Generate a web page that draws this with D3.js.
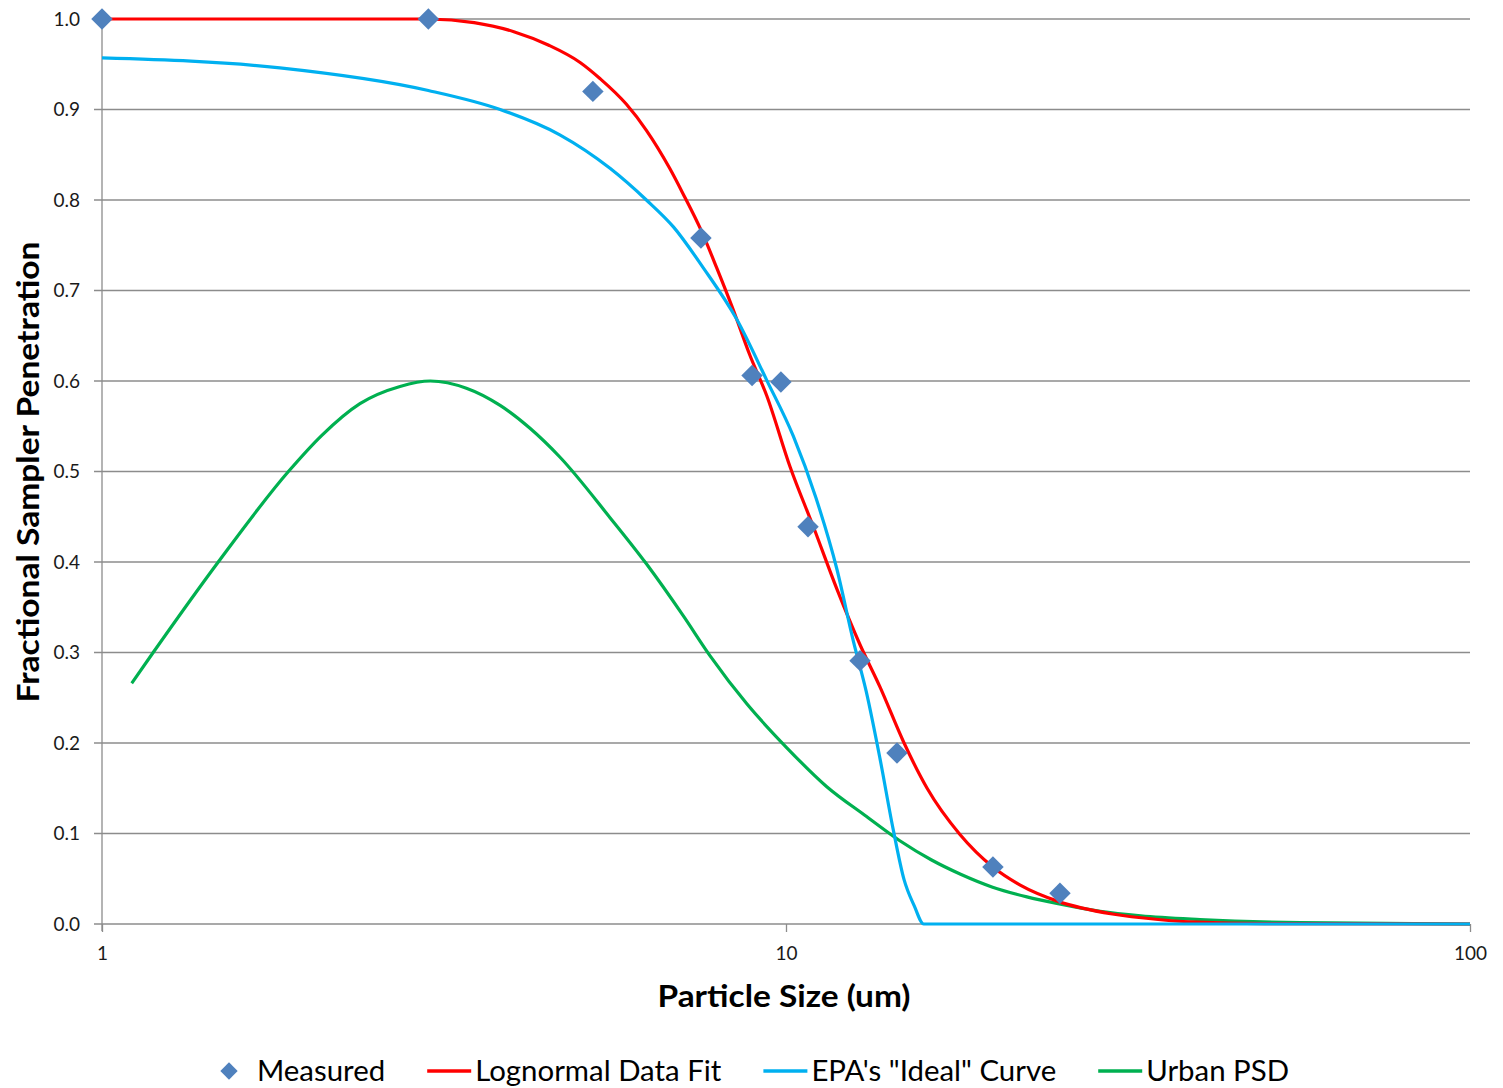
<!DOCTYPE html>
<html>
<head>
<meta charset="utf-8">
<script src="https://cdn.jsdelivr.net/npm/d3@7"></script>
<style>
    body { margin: 0; background: #ffffff; }
    text { font-family: Lato, "Open Sans", sans-serif; }
</style>
</head>
<body>
<script>
// 测量点
const measuredX = [1, 3.0, 5.22, 7.51, 8.92, 9.83, 10.77, 12.83, 14.53, 20.07, 25.15];
const measuredY = [1.0, 1.0, 0.92, 0.758, 0.606, 0.599, 0.439, 0.291, 0.189, 0.063, 0.034];

// 对数正态拟合曲线
const fitX = [1, 2, 3, 3.5, 4, 4.5, 5, 5.35, 5.84, 6.25, 6.76, 7.07, 7.53, 7.92, 8.36, 8.85, 9.37, 10.14, 10.99, 11.87, 12.84, 13.72, 14.88, 16.08, 17.96, 20.07, 22, 25, 30, 35, 40, 50, 100];
const fitY = [1.0, 1.0, 1.0, 0.996, 0.986, 0.971, 0.952, 0.934, 0.906, 0.877, 0.835, 0.807, 0.765, 0.725, 0.68, 0.629, 0.584, 0.505, 0.437, 0.37, 0.308, 0.262, 0.2, 0.15, 0.099, 0.063, 0.043, 0.025, 0.011, 0.005, 0.002, 0.0005, 0];

// EPA 理想曲线
const epaX = [1, 1.82, 3.0, 3.82, 4.67, 5.53, 6.25, 6.85, 7.57, 8.46, 9.37, 10.25, 11.06, 11.87, 12.54, 13.1, 13.72, 14.35, 14.88, 15.4, 15.9, 20, 50, 100];
const epaY = [0.957, 0.946, 0.921, 0.9, 0.872, 0.835, 0.8, 0.77, 0.725, 0.669, 0.601, 0.539, 0.471, 0.392, 0.313, 0.257, 0.183, 0.104, 0.049, 0.02, 0, 0, 0, 0];

// 城市粒径分布
const urbanX = [1.105, 1.188, 1.479, 1.873, 2.096, 2.383, 2.727, 3.02, 3.41, 3.82, 4.22, 4.67, 5.53, 6.25, 7.07, 7.75, 8.77, 10.02, 11.46, 13.1, 14.67, 16.3, 18, 20, 22.5, 25.2, 28.8, 33, 40.3, 56.5, 100];
const urbanY = [0.266, 0.3, 0.4, 0.5, 0.54, 0.575, 0.594, 0.6, 0.592, 0.573, 0.548, 0.516, 0.449, 0.398, 0.341, 0.296, 0.243, 0.195, 0.152, 0.119, 0.092, 0.071, 0.055, 0.041, 0.03, 0.022, 0.014, 0.009, 0.005, 0.0015, 0];

const xTicks = [1, 10, 100];
const yTicks = [0, 0.1, 0.2, 0.3, 0.4, 0.5, 0.6, 0.7, 0.8, 0.9, 1.0];

const legendNames = ['Measured', 'Lognormal Data Fit', 'EPA\'s "Ideal" Curve', 'Urban PSD'];
const colors = {measured: '#4f81bd', fit: '#ff0000', epa: '#00b0f0', urban: '#00b050'};

const svgWidth = 1503, svgHeight = 1088;
const margin = {top: 19, left: 102, right: 33, bottom: 164};

const svg = d3.select('body')
    .append('svg')
    .attr('width', svgWidth)
    .attr('height', svgHeight);

const x = d3.scaleLog()
    .domain([1, 100])
    .range([margin.left, svgWidth - margin.right]);
const y = d3.scaleLinear()
    .domain([0, 1])
    .range([svgHeight - margin.bottom, margin.top]);

// 网格线
svg.append('g')
    .selectAll('line')
    .data(yTicks)
    .enter()
    .append('line')
    .attr('x1', margin.left - 8)
    .attr('x2', x(100))
    .attr('y1', d => y(d))
    .attr('y2', d => y(d))
    .attr('stroke', '#8c8c8c')
    .attr('stroke-width', 1.3);

// y 轴
const yAxis = svg.append('g')
    .attr('transform', `translate(${margin.left},0)`)
    .call(d3.axisLeft(y).tickValues(yTicks).tickFormat(d3.format('.1f')).tickSize(0).tickPadding(22));
yAxis.select('.domain').remove();
yAxis.append('line')
    .attr('x1', 0).attr('x2', 0)
    .attr('y1', y(1)).attr('y2', y(0) + 7)
    .attr('stroke', '#8c8c8c')
    .attr('stroke-width', 1.3);
yAxis.selectAll('text')
    .attr('fill', '#1a1a1a')
    .style('font-size', '19px')
    .style('font-family', 'Lato, sans-serif');

// x 轴
const xAxis = svg.append('g')
    .attr('transform', `translate(0,${y(0)})`)
    .call(d3.axisBottom(x).tickValues(xTicks).tickFormat(d3.format('d')).tickSize(8).tickPadding(15));
xAxis.select('.domain').remove();
xAxis.selectAll('line')
    .attr('stroke', '#8c8c8c')
    .attr('stroke-width', 1.3);
xAxis.selectAll('text')
    .attr('fill', '#1a1a1a')
    .style('font-size', '19px')
    .style('font-family', 'Lato, sans-serif');

// 轴标题（按原图宽度拉伸）
svg.append('text')
    .attr('x', 784)
    .attr('y', 1007)
    .attr('text-anchor', 'middle')
    .attr('textLength', 253)
    .attr('lengthAdjust', 'spacingAndGlyphs')
    .style('font-size', '31px')
    .style('font-weight', 'bold')
    .text('Particle Size (um)');
svg.append('text')
    .attr('transform', 'translate(39,472) rotate(-90)')
    .attr('text-anchor', 'middle')
    .attr('textLength', 461)
    .attr('lengthAdjust', 'spacingAndGlyphs')
    .style('font-size', '31px')
    .style('font-weight', 'bold')
    .text('Fractional Sampler Penetration');

// 曲线
const line = d3.line()
    .x(d => x(d[0]))
    .y(d => y(d[1]))
    .curve(d3.curveMonotoneX);

const series = [
    {xs: urbanX, ys: urbanY, color: colors.urban},
    {xs: fitX, ys: fitY, color: colors.fit},
    {xs: epaX, ys: epaY, color: colors.epa}
];
series.forEach(s => {
    svg.append('path')
        .datum(d3.zip(s.xs, s.ys))
        .attr('d', line)
        .attr('fill', 'none')
        .attr('stroke', s.color)
        .attr('stroke-width', 3.2)
        .attr('stroke-linejoin', 'round');
});

// 测量点（菱形）
const diamond = d3.symbol().type(d3.symbolSquare).size(230);
svg.append('g')
    .selectAll('path')
    .data(d3.zip(measuredX, measuredY))
    .enter()
    .append('path')
    .attr('d', diamond)
    .attr('transform', d => `translate(${x(d[0])},${y(d[1])}) rotate(45)`)
    .attr('fill', colors.measured);

// 图例
const legendY = 1071;
const legend = svg.append('g');
let cursor = 218;
legendNames.forEach((name, i) => {
    let textX;
    if (i === 0) {
        legend.append('path')
            .attr('d', d3.symbol().type(d3.symbolSquare).size(150))
            .attr('transform', `translate(${cursor + 11},${legendY}) rotate(45)`)
            .attr('fill', colors.measured);
        textX = cursor + 39;
    } else {
        const c = [colors.fit, colors.epa, colors.urban][i - 1];
        legend.append('line')
            .attr('x1', cursor).attr('x2', cursor + 44)
            .attr('y1', legendY).attr('y2', legendY)
            .attr('stroke', c)
            .attr('stroke-width', 3.5);
        textX = cursor + 48;
    }
    const t = legend.append('text')
        .attr('x', textX)
        .attr('y', legendY + 10)
        .attr('fill', '#000')
        .style('font-size', '28px')
        .text(name);
    const w = t.node().getComputedTextLength() * 1.05;
    t.attr('textLength', w).attr('lengthAdjust', 'spacingAndGlyphs');
    cursor = textX + w + 42;
});
</script>
</body>
</html>
